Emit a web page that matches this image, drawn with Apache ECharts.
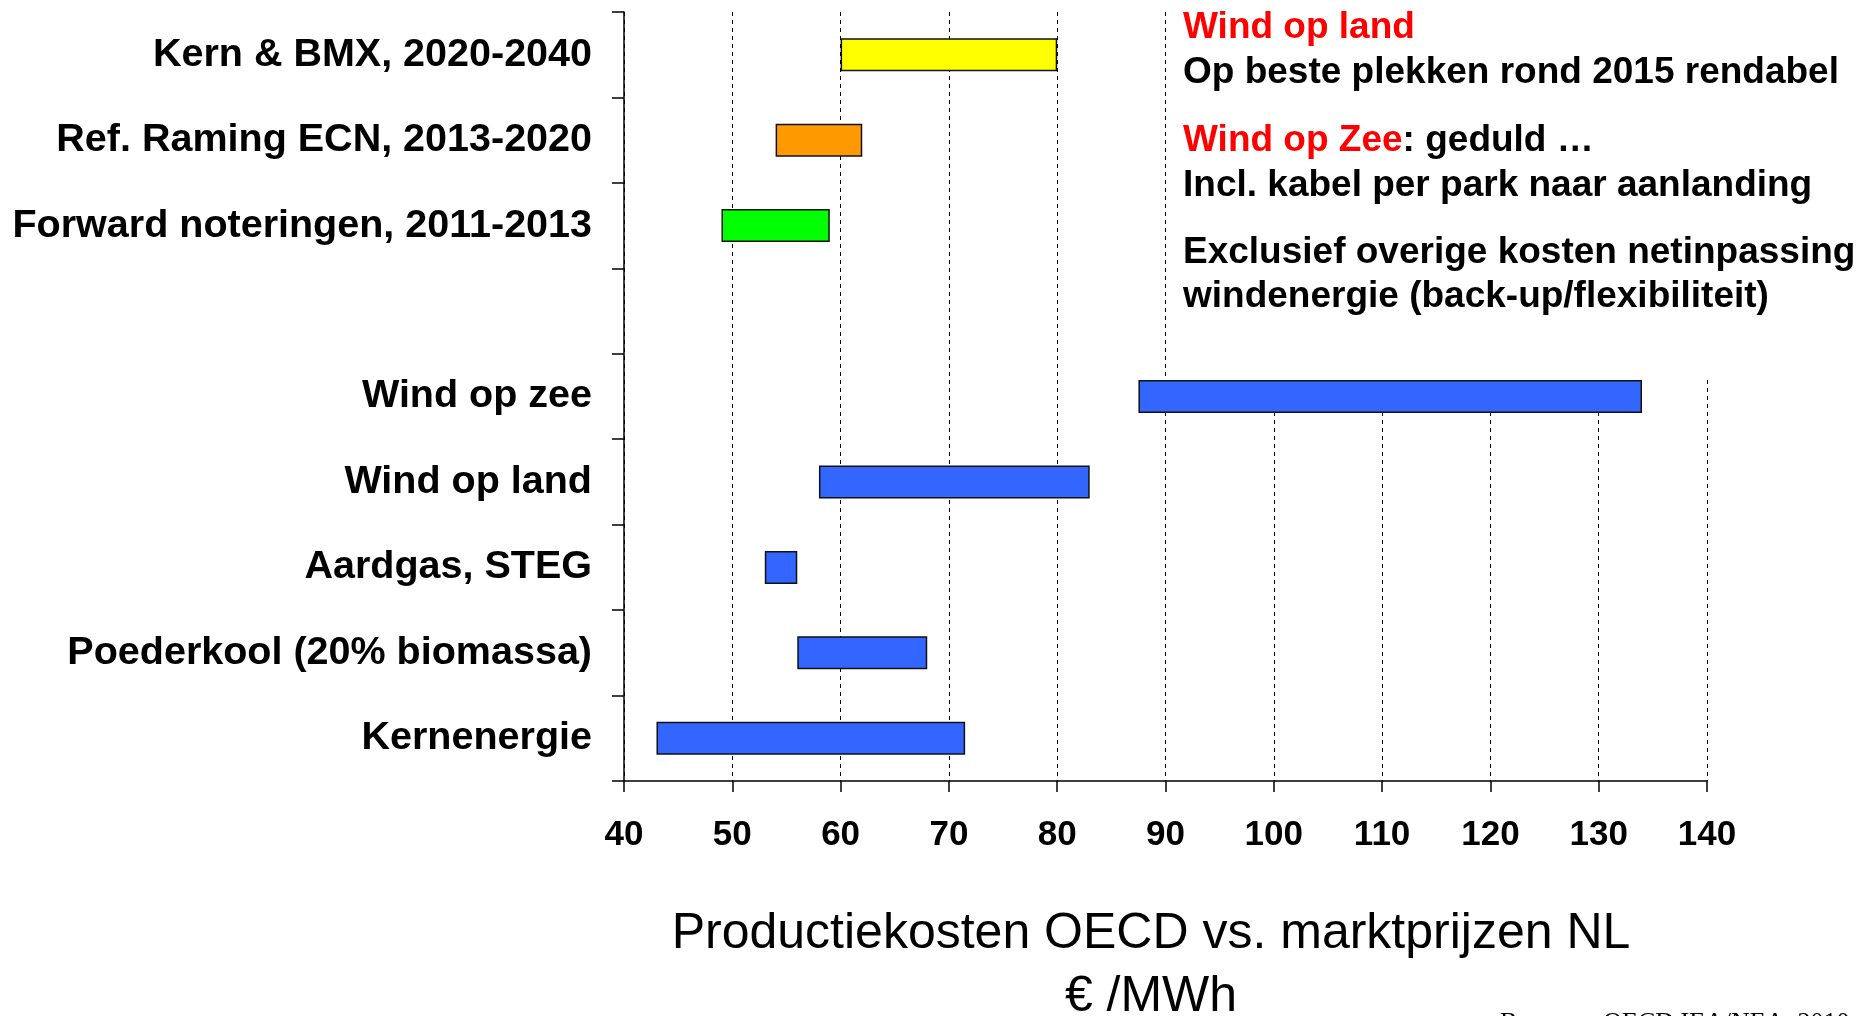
<!DOCTYPE html>
<html>
<head>
<meta charset="utf-8">
<script src="https://cdn.jsdelivr.net/npm/echarts@6/dist/echarts.min.js"></script>
<style>
	html, body { margin: 0; padding: 0; background: #fff; }
	#main { width: 1864px; height: 1016px; }
</style>
</head>
<body>
<div id="main"></div>
<script>
	// categorieen van onder naar boven (lege regel tussen de twee groepen)
	var categories = ['Kernenergie', 'Poederkool (20% biomassa)', 'Aardgas, STEG', 'Wind op land', 'Wind op zee', '',
		'Forward noteringen, 2011-2013', 'Ref. Raming ECN, 2013-2020', 'Kern & BMX, 2020-2040'];
	// €/MWh, begin en eind van elke balk
	var startValues = [43, 56, 53, 58, 87.5, '-', 49, 54, 60];
	var endValues = [71.5, 68, 56, 83, 134, '-', 59, 62, 80];
	var barColors = ['#3366ff', '#3366ff', '#3366ff', '#3366ff', '#3366ff', '#3366ff', '#00ff00', '#ff9900', '#ffff00'];

	var font = 'Liberation Sans, Arial, sans-serif';

	var lengths = startValues.map(function(s, i) {
		if (s === '-') return '-';
		return {
			value: endValues[i] - s,
			itemStyle: { color: barColors[i] }
		};
	});

	var myChart = echarts.init(document.getElementById('main'));
	var option = {
		animation: false,
		grid: {
			left: 624,
			right: 157,
			top: 12,
			bottom: 235
		},
		xAxis: {
			type: 'value',
			min: 40,
			max: 140,
			interval: 10,
			axisLine: { show: true, lineStyle: { color: '#000', width: 1.5 } },
			axisTick: { show: true, length: 11, lineStyle: { color: '#000', width: 1.5 } },
			axisLabel: {
				color: '#000',
				fontFamily: font,
				fontWeight: 'bold',
				fontSize: 35,
				margin: 37
			},
			splitLine: {
				show: true,
				lineStyle: { color: '#000', width: 1, type: [4, 4] }
			}
		},
		yAxis: {
			type: 'category',
			data: categories,
			axisLine: { show: true, lineStyle: { color: '#000', width: 1.5 } },
			axisTick: { show: true, length: 12, lineStyle: { color: '#000', width: 1.5 } },
			axisLabel: {
				color: '#000',
				fontFamily: font,
				fontWeight: 'bold',
				fontSize: 39.5,
				margin: 32
			},
			splitLine: { show: false }
		},
		series: [{
				name: 'basis',
				type: 'bar',
				stack: 'kosten',
				barWidth: 33,
				itemStyle: { color: 'rgba(0,0,0,0)', borderColor: 'rgba(0,0,0,0)' },
				data: startValues
			},
			{
				name: 'bandbreedte',
				type: 'bar',
				stack: 'kosten',
				barWidth: 33,
				itemStyle: { borderColor: '#111', borderWidth: 1.5 },
				data: lengths
			}
		],
		graphic: [{
				// witte vlak achter de tekst, verbergt de rasterlijnen
				type: 'rect',
				z: 100,
				shape: { x: 1175, y: 0, width: 689, height: 378 },
				style: { fill: '#fff' }
			},
			{
				type: 'text', z: 101, x: 1183, y: 28,
				style: { text: 'Wind op land', fill: '#ff0000', font: 'bold 37px ' + font, verticalAlign: 'middle' }
			},
			{
				type: 'text', z: 101, x: 1183, y: 73,
				style: { text: 'Op beste plekken rond 2015 rendabel', fill: '#000', font: 'bold 37px ' + font, verticalAlign: 'middle' }
			},
			{
				type: 'text', z: 101, x: 1183, y: 141,
				style: {
					text: '{r|Wind op Zee}: geduld …',
					fill: '#000',
					font: 'bold 37px ' + font,
					verticalAlign: 'middle',
					rich: {
						r: { fill: '#ff0000', fontSize: 37, fontWeight: 'bold', fontFamily: font }
					}
				}
			},
			{
				type: 'text', z: 101, x: 1183, y: 186,
				style: { text: 'Incl. kabel per park naar aanlanding', fill: '#000', font: 'bold 37px ' + font, verticalAlign: 'middle' }
			},
			{
				type: 'text', z: 101, x: 1183, y: 253,
				style: { text: 'Exclusief overige kosten netinpassing', fill: '#000', font: 'bold 37px ' + font, verticalAlign: 'middle' }
			},
			{
				type: 'text', z: 101, x: 1183, y: 297,
				style: { text: 'windenergie (back-up/flexibiliteit)', fill: '#000', font: 'bold 37px ' + font, verticalAlign: 'middle' }
			},
			{
				type: 'text', z: 101, x: 1151, y: 934,
				style: { text: 'Productiekosten OECD vs. marktprijzen NL', fill: '#000', font: '50px ' + font, align: 'center', verticalAlign: 'middle' }
			},
			{
				type: 'text', z: 101, x: 1151, y: 997,
				style: { text: '€ /MWh', fill: '#000', font: '50px ' + font, align: 'center', verticalAlign: 'middle' }
			},
			{
				type: 'text', z: 101, x: 1500, y: 1010,
				style: { text: 'Bronnen: OECD IEA/NEA, 2010', fill: '#000', font: '26px Liberation Serif, serif', verticalAlign: 'top' }
			}
		]
	};
	myChart.setOption(option);
</script>
</body>
</html>
